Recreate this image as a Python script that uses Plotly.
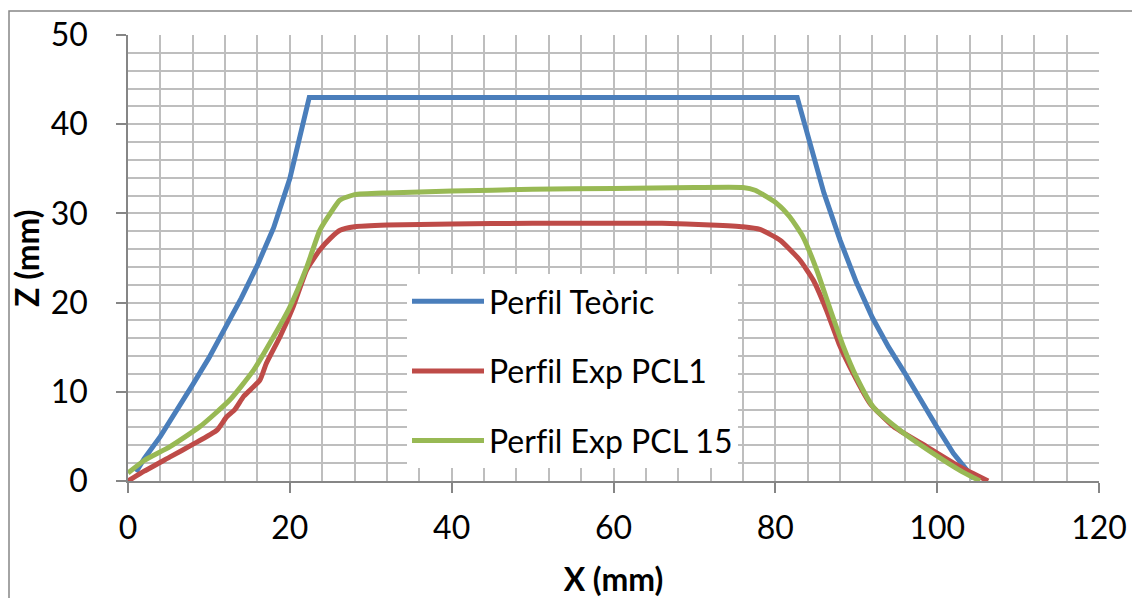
import plotly.graph_objects as go

# ---- data ----
teoric_x = [1.0, 2, 4, 6, 8, 10, 12, 14, 16, 18, 20, 22.4, 82.7, 84, 86, 88, 90, 92, 94, 96, 98, 100, 102, 104, 104.5]
teoric_z = [1.0, 2.5, 5.0, 7.8, 10.8, 13.8, 17.2, 20.5, 24.2, 28.4, 33.9, 43.0, 43.0, 38.6, 32.3, 27.0, 22.3, 18.3, 15.0, 12.1, 9.0, 6.0, 3.1, 0.7, 0.3]

pcl1_x = [0, 2, 5.2, 8, 11.0, 12.2, 13.2, 14.3, 16.3, 17.1, 18.8, 20.4, 22.1, 23.7, 25, 26.2, 28, 32, 40, 50,
          60, 66, 72, 76, 78.1, 80.6, 83.0, 84.7, 86.3, 88.0, 89.6, 91.7, 94.6, 98.7, 102.8, 106.3]
pcl1_z = [0, 1.1, 2.7, 4.1, 5.7, 7.2, 8.0, 9.5, 11.3, 13.2, 16.2, 19.5, 23.7, 25.9, 27.2, 28.1, 28.5, 28.7, 28.8, 28.9,
          28.9, 28.9, 28.7, 28.5, 28.2, 27.0, 24.8, 22.5, 19.2, 15.1, 12.1, 8.7, 6.1, 3.85, 1.6, 0.0]

pcl15_x = [0, 2, 5.2, 8.9, 12.6, 15.5, 18.0, 20.0, 22.1, 23.7, 25.0, 26.2, 28, 32, 40, 50, 60, 70, 76, 77.5,
           80.2, 81.8, 83.4, 85.1, 86.8, 88.4, 90.0, 92.1, 95.4, 99.5, 102.8, 105.3]
pcl15_z = [0.9, 2.3, 3.85, 6.1, 9.1, 12.4, 16.2, 19.5, 24.0, 28.1, 30.0, 31.5, 32.1, 32.3, 32.5, 32.7, 32.8, 32.9, 32.9, 32.6,
           31.1, 29.6, 27.4, 23.7, 19.2, 15.1, 11.7, 8.3, 5.7, 3.1, 1.2, 0.0]

# zero-width non-joiner keeps "fi" from becoming a ligature, as in the original
names = ["Perf\u200cil Teòric", "Perf\u200cil Exp PCL1", "Perf\u200cil Exp PCL 15"]
colors = ["#4A7EBB", "#BE4B48", "#98B954"]

x_ticks = [0, 20, 40, 60, 80, 100, 120]
y_ticks = [0, 10, 20, 30, 40, 50]

FONT = "Lato"
FS = 32

fig = go.Figure()
fig.add_trace(go.Scatter(x=teoric_x, y=teoric_z, mode="lines", name=names[0], legendgroup="a",
                         line=dict(color=colors[0], width=5)))
fig.add_trace(go.Scatter(x=pcl1_x, y=pcl1_z, mode="lines", name=names[1], legendgroup="b",
                         line=dict(color=colors[1], width=5, shape="spline", smoothing=0.5)))
fig.add_trace(go.Scatter(x=pcl15_x, y=pcl15_z, mode="lines", name=names[2], legendgroup="c",
                         line=dict(color=colors[2], width=5, shape="spline", smoothing=0.5)))

grid_col = "#BEBEBE"
axis_col = "#868686"

fig.update_layout(
    width=1132, height=598,
    margin=dict(l=128, r=33, t=35, b=117, autoexpand=False),
    paper_bgcolor="white", plot_bgcolor="white",
    font=dict(family=FONT, size=FS, color="black"),
    showlegend=True,
    legend=dict(x=(407 - 128) / 971, y=(481 - 274) / 446, xanchor="left", yanchor="top",
                bgcolor="white", borderwidth=0, tracegroupgap=25,
                font=dict(family=FONT, size=FS, color="black"),
                itemwidth=72),
    xaxis=dict(range=[0, 120], tickvals=x_ticks, ticktext=[str(v) for v in x_ticks],
               showgrid=True, gridcolor=grid_col, gridwidth=1.5,
               minor=dict(dtick=4, tick0=0, showgrid=True, gridcolor=grid_col, gridwidth=1.5),
               showline=True, linecolor=axis_col, linewidth=1.5,
               ticks="outside", ticklen=10, tickcolor=axis_col, tickwidth=1.5,
               zeroline=False, ticklabelstandoff=8, automargin=False,
               title=dict(text="<b>X (mm)</b>", font=dict(family=FONT, size=FS), standoff=28)),
    yaxis=dict(range=[0, 50], tickvals=y_ticks, ticktext=[str(v) for v in y_ticks],
               showgrid=True, gridcolor=grid_col, gridwidth=1.5,
               minor=dict(dtick=2, tick0=0, showgrid=True, gridcolor=grid_col, gridwidth=1.5),
               showline=True, linecolor=axis_col, linewidth=1.5,
               ticks="outside", ticklen=10, tickcolor=axis_col, tickwidth=1.5,
               zeroline=False, ticklabelstandoff=22, automargin=False),
)

# y-axis title placed as a rotated annotation for exact positioning
fig.add_annotation(text="<b>Z (mm)</b>", xref="paper", yref="paper",
                   x=(26 - 128) / 971, y=0.5, xanchor="center", yanchor="middle",
                   textangle=-90, showarrow=False, font=dict(family=FONT, size=FS, color="black"))

# outer chart border
fig.add_shape(type="rect", xref="paper", yref="paper",
              x0=(9 - 128) / 971, x1=1.04, y0=-0.3, y1=(481 - 11) / 446,
              line=dict(color=axis_col, width=1.5), fillcolor="rgba(0,0,0,0)", layer="below")

fig.write_html("out.html")
